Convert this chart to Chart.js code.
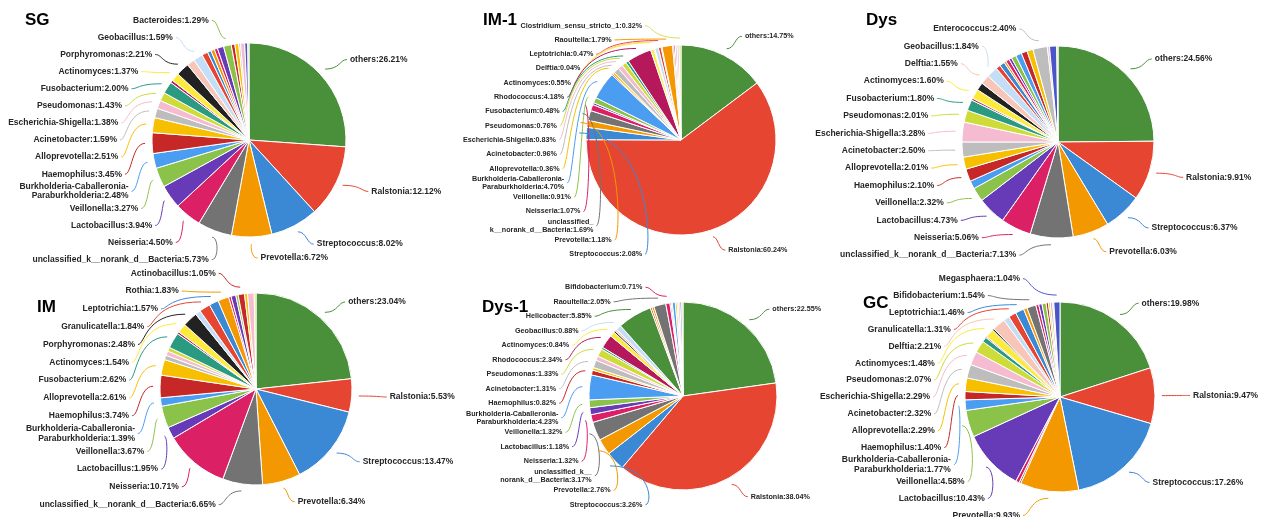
<!DOCTYPE html>
<html>
<head>
<meta charset="utf-8">
<script src="https://cdn.jsdelivr.net/npm/chart.js@4.4.0/dist/chart.umd.min.js"></script>
<style>
  html, body { margin: 0; padding: 0; background: #fff; }
  #wrap { position: relative; width: 1272px; height: 517px; overflow: hidden; }
  #wrap canvas { position: absolute; left: 0; top: 0; }
</style>
</head>
<body>
<div id="wrap">
  <canvas id="sg" width="1272" height="517"></canvas>
  <canvas id="im1" width="1272" height="517"></canvas>
  <canvas id="dys" width="1272" height="517"></canvas>
  <canvas id="im" width="1272" height="517"></canvas>
  <canvas id="dys1" width="1272" height="517"></canvas>
  <canvas id="gc" width="1272" height="517"></canvas>
</div>
<script>
const W = 1272, H = 517;

// slice colours, same slot order in every pie
const slotColors = [
  '#4A8F3A', '#E64532', '#3B88D4', '#F39800', '#737373', '#DC2066', '#673AB7', '#8BC34A',
  '#4A9DF0', '#C62828', '#F6C000', '#BDBDBD', '#F4BBD1', '#CDDC39', '#2A9A80', '#B5195B',
  '#FDEA3B', '#222222', '#F7C6B8', '#C4DEF7',
  '#4A8F3A', '#E64532', '#3B88D4', '#F39800', '#737373', '#DC2066', '#673AB7', '#8BC34A',
  '#4A9DF0', '#C62828', '#F6C000', '#BDBDBD', '#F4BBD1', '#4A55C8', '#D4E157'
];

const burk = 'Burkholderia-Caballeronia-\nParaburkholderia';
const uncl = 'unclassified_k__norank_d__Bacteria';

// SG
const sgLabels = ['others', 'Ralstonia', 'Streptococcus', 'Prevotella', uncl, 'Neisseria', 'Lactobacillus', 'Veillonella',
  burk, 'Haemophilus', 'Alloprevotella', 'Acinetobacter', 'Escherichia-Shigella', 'Pseudomonas', 'Fusobacterium', null,
  'Actinomyces', 'Porphyromonas', null, 'Geobacillus', null, null, null, null, null, null, null, 'Bacteroides',
  null, null, null, null, null, null, null];
const sgValues = [26.21, 12.12, 8.02, 6.72, 5.73, 4.50, 3.94, 3.27, 2.48, 3.45, 2.51, 1.59, 1.38, 1.43, 2.00, 0.45,
  1.37, 2.21, 1.3, 1.59, 0, 1.0, 0.6, 0.6, 0, 0.55, 1.05, 1.29, 0, 0.6, 0.65, 0.3, 0.7, 0.5, 0.2];

// IM-1
const im1Labels = ['others', 'Ralstonia', 'Streptococcus', 'Prevotella', 'unclassified_\nk__norank_d__Bacteria', 'Neisseria', null, 'Veillonella',
  burk, null, 'Alloprevotella', 'Acinetobacter', 'Escherichia-Shigella', 'Pseudomonas', 'Fusobacterium', 'Rhodococcus',
  'Actinomyces', null, 'Delftia', null, null, 'Leptotrichia', null, 'Raoultella', null, null, null, null,
  null, null, null, null, null, null, 'Clostridium_sensu_stricto_1'];
const im1Values = [14.75, 60.24, 2.08, 1.18, 1.69, 1.07, 0.35, 0.91, 4.70, 0.2, 0.36, 0.96, 0.83, 0.76, 0.48, 4.18,
  0.55, 0.15, 0.04, 0.6, 0, 0.47, 0.15, 1.79, 0, 0.2, 0, 0, 0, 0.25, 0, 0.3, 0.35, 0, 0.32];

// Dys
const dysLabels = ['others', 'Ralstonia', 'Streptococcus', 'Prevotella', uncl, 'Neisseria', 'Lactobacillus', 'Veillonella',
  null, 'Haemophilus', 'Alloprevotella', 'Acinetobacter', 'Escherichia-Shigella', 'Pseudomonas', 'Fusobacterium', null,
  'Actinomyces', null, 'Delftia', 'Geobacillus', null, null, null, null, null, null, null, null,
  null, null, null, 'Enterococcus', null, null, null];
const dysValues = [24.56, 9.91, 6.37, 6.03, 7.13, 5.06, 4.73, 2.32, 1.35, 2.10, 2.01, 2.50, 3.28, 2.01, 1.80, 0.35,
  1.60, 1.30, 1.55, 1.84, 0, 0.75, 0.85, 0.35, 0, 0.6, 0.45, 0.8, 1.0, 1.0, 1.0, 2.40, 0.35, 1.2, 0.2];

// IM
const imLabels = ['others', 'Ralstonia', 'Streptococcus', 'Prevotella', uncl, 'Neisseria', 'Lactobacillus', 'Veillonella',
  burk, 'Haemophilus', 'Alloprevotella', null, null, null, 'Fusobacterium', null,
  'Actinomyces', 'Porphyromonas', null, null, null, 'Granulicatella', 'Leptotrichia', 'Rothia', null, null, null, null,
  null, 'Actinobacillus', null, null, null, null, null];
const imValues = [23.04, 5.53, 13.47, 6.34, 6.65, 10.71, 1.95, 3.67, 1.39, 3.74, 2.61, 0.75, 0.75, 0.65, 2.62, 0.35,
  1.54, 2.48, 0, 0.9, 0, 1.84, 1.57, 1.83, 0, 0.4, 0.8, 0.4, 0, 1.05, 0.5, 0, 1.1, 0, 0.3];

// Dys-1
const dys1Labels = ['others', 'Ralstonia', 'Streptococcus', 'Prevotella', 'unclassified_k__\nnorank_d__Bacteria', 'Neisseria', 'Lactobacillus', 'Veillonella',
  burk, 'Haemophilus', null, 'Acinetobacter', null, 'Pseudomonas', null, 'Rhodococcus',
  'Actinomyces', null, null, 'Geobacillus', 'Helicobacter', null, null, null, 'Raoultella', 'Bifidobacterium', null, null,
  null, null, null, null, null, null, null];
const dys1Values = [22.55, 38.04, 3.26, 2.76, 3.17, 1.32, 1.18, 1.32, 4.23, 0.82, 0.45, 1.31, 0.75, 1.33, 0.35, 2.34,
  0.84, 0.3, 0.35, 0.88, 5.85, 0.3, 0, 0.35, 2.05, 0.71, 0.2, 0.2, 0.5, 0, 0.3, 0.2, 0.3, 0.3, 0.2];

// GC
const gcLabels = ['others', 'Ralstonia', 'Streptococcus', 'Prevotella', null, null, 'Lactobacillus', 'Veillonella',
  burk, 'Haemophilus', 'Alloprevotella', 'Acinetobacter', 'Escherichia-Shigella', 'Pseudomonas', null, null,
  'Actinomyces', null, 'Delftia', null, null, 'Granulicatella', 'Leptotrichia', null, 'Bifidobacterium', null, null, null,
  null, null, null, null, null, 'Megasphaera', null];
const gcValues = [19.98, 9.47, 17.26, 9.93, 0.3, 0.6, 10.43, 4.58, 1.77, 1.40, 2.29, 2.32, 2.29, 2.07, 0.85, 0.2,
  1.48, 0.3, 2.21, 1.0, 0, 1.31, 1.46, 0.6, 1.54, 0.5, 0.55, 0.7, 0, 0.4, 0.3, 0.4, 0.2, 1.04, 0];

// labels with leader lines, left ones stacked in a column
const pieLabels = {
  id: 'pieLabels',
  afterDraw(chart, args, o) {
    const ctx = chart.ctx;
    const meta = chart.getDatasetMeta(0);
    const ds = chart.data.datasets[0];
    const names = chart.data.labels;
    const cx = meta.data[0].x, cy = meta.data[0].y, r = meta.data[0].outerRadius;
    const left = [], right = [];
    meta.data.forEach((arc, i) => {
      if (!names[i]) return;
      const a = (arc.startAngle + arc.endAngle) / 2;
      const lines = (names[i] + ':' + ds.data[i].toFixed(2) + '%').split('\n');
      const item = { a, lines, color: ds.backgroundColor[i] };
      (Math.cos(a) < 0 ? left : right).push(item);
    });

    ctx.save();
    ctx.font = 'bold ' + o.fontSize + 'px "Liberation Sans", Arial, sans-serif';
    ctx.lineWidth = 1;
    const lh = o.fontSize * 1.1;

    const drawLine = (x0, y0, dir, item) => {
      const ex = cx + Math.cos(item.a) * (r + 7);
      const ey = cy + Math.sin(item.a) * (r + 7);
      const kx = x0 + dir * 7;
      ctx.strokeStyle = item.color;
      ctx.beginPath();
      ctx.moveTo(x0, y0);
      ctx.bezierCurveTo(kx, y0, kx, ey, ex, ey);
      ctx.stroke();
    };
    const drawText = (x, y, align, item) => {
      ctx.fillStyle = '#262626';
      ctx.textAlign = align;
      ctx.textBaseline = 'middle';
      const n = item.lines.length;
      item.lines.forEach((t, k) => ctx.fillText(t, x, y + (k - (n - 1) / 2) * lh));
    };

    left.sort((p, q) => q.a - p.a);
    const half = (left.length - 1) / 2 * o.step;
    const ry = half + 6, rx = r + o.gap;
    left.forEach((item, k) => {
      const y = cy - half + k * o.step;
      const dy = y - cy;
      const dx = Math.max(22, rx * Math.sqrt(Math.max(0, 1 - (dy / ry) * (dy / ry))));
      const xEnd = cx - dx;
      drawLine(xEnd + 3, y, 1, item);
      drawText(xEnd, y, 'right', item);
    });

    right.forEach(item => {
      const ax = cx + Math.cos(item.a) * (r + 30);
      const ay = cy + Math.sin(item.a) * (r + 21);
      drawLine(ax + 5, ay, -1, item);
      drawText(ax + 8, ay, 'left', item);
    });

    ctx.font = 'bold 17px "Liberation Sans", Arial, sans-serif';
    ctx.fillStyle = '#000';
    ctx.textAlign = 'left';
    ctx.textBaseline = 'alphabetic';
    ctx.fillText(o.title, o.titleX, o.titleY);
    ctx.restore();
  }
};

function makePie(id, labels, values, L) {
  const keep = values.map((v, i) => i).filter(i => values[i] > 0);
  new Chart(document.getElementById(id), {
    type: 'pie',
    data: {
      labels: keep.map(i => labels[i]),
      datasets: [{
        data: keep.map(i => values[i]),
        backgroundColor: keep.map(i => slotColors[i]),
        borderColor: '#fff',
        borderWidth: 1
      }]
    },
    options: {
      responsive: false,
      animation: false,
      layout: {
        padding: {
          left: L.cx - L.r - 0.5,
          top: L.cy - L.r - 0.5,
          right: W - L.cx - L.r - 0.5,
          bottom: H - L.cy - L.r - 0.5
        }
      },
      plugins: {
        legend: { display: false },
        tooltip: { enabled: false },
        pieLabels: L
      }
    },
    plugins: [pieLabels]
  });
}

makePie('sg', sgLabels, sgValues, { cx: 249, cy: 140, r: 97, fontSize: 8.5, step: 17.1, gap: 35, title: 'SG', titleX: 25, titleY: 25 });
makePie('im1', im1Labels, im1Values, { cx: 681, cy: 140, r: 95, fontSize: 7.2, step: 14.3, gap: 30, title: 'IM-1', titleX: 483, titleY: 25 });
makePie('dys', dysLabels, dysValues, { cx: 1058, cy: 142, r: 96, fontSize: 8.5, step: 17.4, gap: 37, title: 'Dys', titleX: 866, titleY: 25 });
makePie('im', imLabels, imValues, { cx: 256, cy: 389, r: 96, fontSize: 8.5, step: 17.8, gap: 34, title: 'IM', titleX: 37, titleY: 312 });
makePie('dys1', dys1Labels, dys1Values, { cx: 683, cy: 396, r: 94, fontSize: 7.2, step: 14.5, gap: 33, title: 'Dys-1', titleX: 482, titleY: 312 });
makePie('gc', gcLabels, gcValues, { cx: 1060, cy: 397, r: 95, fontSize: 8.5, step: 16.9, gap: 35, title: 'GC', titleX: 863, titleY: 308 });
</script>
</body>
</html>
